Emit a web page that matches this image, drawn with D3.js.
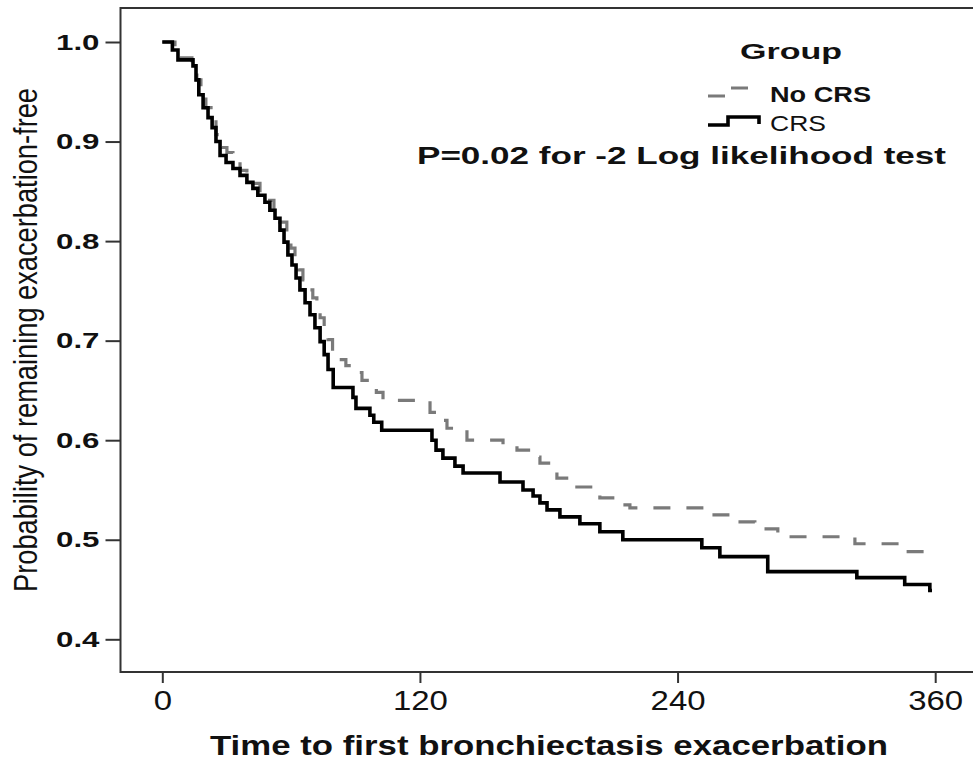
<!DOCTYPE html>
<html>
<head>
<meta charset="utf-8">
<script src="https://cdn.jsdelivr.net/npm/d3@7"></script>
<style>
  html, body { margin: 0; padding: 0; background: #fff; }
  svg { display: block; }
  text { font-family: Arial, "Liberation Sans", sans-serif; fill: #111; }
</style>
</head>
<body>
<svg id="chart" width="973" height="763"></svg>
<script>
// ---- Data ----
const xTicks = [0, 120, 240, 360];
const yTicks = [0.4, 0.5, 0.6, 0.7, 0.8, 0.9, 1.0];

// CRS group (solid): step times and survival after each step
const crsTimes = [0, 4.7, 7.3, 14.3, 15.7, 17, 19, 21.3, 23.2, 25, 26.9, 29.7, 32.9, 36.2, 39.4, 42.2, 44.5, 47.8, 50.1, 52.5, 54.8, 56.7, 58.5, 60.4, 62.3, 64.1, 66.5, 68.8, 71.1, 73.5, 75.4, 77.2, 79.6, 88.8, 90.2, 96.7, 98.5, 102.2, 125.6, 127.5, 130.7, 136.3, 140.1, 157.3, 168, 172.7, 175.9, 179.2, 185.2, 194.5, 203.8, 214.5, 251.3, 259.7, 282, 323.5, 345.8, 357.5, 358.5];
const crsSurv  = [1.0, 0.992, 0.982, 0.976, 0.962, 0.947, 0.934, 0.924, 0.914, 0.900, 0.886, 0.879, 0.873, 0.866, 0.859, 0.853, 0.846, 0.839, 0.831, 0.823, 0.811, 0.799, 0.786, 0.776, 0.763, 0.751, 0.738, 0.726, 0.713, 0.699, 0.686, 0.671, 0.653, 0.643, 0.632, 0.625, 0.618, 0.610, 0.600, 0.590, 0.582, 0.574, 0.567, 0.558, 0.550, 0.544, 0.537, 0.530, 0.523, 0.516, 0.508, 0.500, 0.492, 0.483, 0.468, 0.462, 0.455, 0.449, 0.449];

// No CRS group (dashed)
const noCrsTimes = [0, 5.9, 8.2, 13.8, 16.1, 18, 20.3, 22.7, 25, 27.8, 30.1, 32.9, 36.2, 39.4, 42.2, 45.5, 48.7, 52, 54.8, 58, 59.9, 61.8, 63.6, 65.5, 67.8, 70.1, 72, 73.5, 75.4, 77.2, 79.3, 81.3, 85.5, 89.7, 93, 96.7, 99.7, 102.8, 124.7, 128.4, 132.6, 141.9, 158.7, 165.2, 172.7, 175.9, 183.8, 193.1, 203.8, 214.5, 217.8, 252.7, 264.4, 276, 286.7, 322.6, 343.6, 355, 358.5];
const noCrsSurv  = [1.0, 0.994, 0.984, 0.978, 0.962, 0.947, 0.934, 0.922, 0.907, 0.894, 0.889, 0.881, 0.871, 0.864, 0.858, 0.849, 0.841, 0.831, 0.819, 0.804, 0.793, 0.781, 0.771, 0.761, 0.751, 0.743, 0.733, 0.723, 0.713, 0.701, 0.686, 0.681, 0.675, 0.668, 0.660, 0.654, 0.648, 0.640, 0.628, 0.620, 0.612, 0.600, 0.595, 0.590, 0.583, 0.577, 0.562, 0.553, 0.542, 0.535, 0.532, 0.525, 0.518, 0.511, 0.503, 0.496, 0.488, 0.482, 0.482];

const groups = ["No CRS", "CRS"];
const xTitle = "Time to first bronchiectasis exacerbation";
const yTitle = "Probability of remaining exacerbation-free";
const pText = "P=0.02 for -2 Log likelihood test";

// ---- Drawing ----
const svg = d3.select("#chart");

const x = d3.scaleLinear().domain([0, 360]).range([162.3, 935.2]);
const y = d3.scaleLinear().domain([0.4, 1.0]).range([639.3, 42]);

const frameLeft = 120.5, frameTop = 8, frameBottom = 672;

function stretch(sel, k) {
  sel.each(function () {
    const w = this.getComputedTextLength();
    d3.select(this).attr("textLength", w * k).attr("lengthAdjust", "spacingAndGlyphs");
  });
}

// Frame (left, top, bottom; right side is cut off)
const frame = svg.append("g").attr("stroke", "#333").attr("stroke-width", 2).attr("fill", "none");
frame.append("path").attr("d", `M973,${frameTop}H${frameLeft}V${frameBottom}H973`);

// Y axis
const yAxis = svg.append("g")
  .attr("transform", `translate(${frameLeft},0)`)
  .call(d3.axisLeft(y).tickValues(yTicks).tickFormat(d3.format(".1f")).tickSize(15).tickPadding(6));
yAxis.select(".domain").remove();
yAxis.selectAll(".tick line").attr("stroke", "#333").attr("stroke-width", 2);
yAxis.selectAll(".tick text")
  .attr("font-size", 22).attr("font-weight", "bold")
  .attr("font-family", "Arial, 'Liberation Sans', sans-serif")
  .attr("fill", "#111")
  .call(stretch, 1.42);

// X axis
const xAxis = svg.append("g")
  .attr("transform", `translate(0,${frameBottom})`)
  .call(d3.axisBottom(x).tickValues(xTicks).tickFormat(d3.format("d")).tickSize(11).tickPadding(8));
xAxis.select(".domain").remove();
xAxis.selectAll(".tick line").attr("stroke", "#333").attr("stroke-width", 2);
xAxis.selectAll(".tick text")
  .attr("font-size", 27)
  .attr("font-family", "Arial, 'Liberation Sans', sans-serif")
  .attr("fill", "#111")
  .call(stretch, 1.22);

// Axis titles
svg.append("text")
  .attr("x", 549).attr("y", 755)
  .attr("text-anchor", "middle")
  .attr("font-size", 27).attr("font-weight", "bold")
  .attr("textLength", 678).attr("lengthAdjust", "spacingAndGlyphs")
  .text(xTitle);

svg.append("text")
  .attr("transform", "translate(37,340) rotate(-90) scale(1,1.35)")
  .attr("text-anchor", "middle")
  .attr("font-size", 24)
  .attr("textLength", 504).attr("lengthAdjust", "spacingAndGlyphs")
  .text(yTitle);

// Curves
const line = d3.line().x(d => x(d[0])).y(d => y(d[1])).curve(d3.curveStepAfter);
const crsData = crsTimes.map((t, i) => [t, crsSurv[i]]);
const noCrsData = noCrsTimes.map((t, i) => [t, noCrsSurv[i]]);

svg.append("path")
  .datum(noCrsData)
  .attr("d", line)
  .attr("fill", "none")
  .attr("stroke", "#7a7a7a")
  .attr("stroke-width", 3.2)
  .attr("stroke-dasharray", "17,16");

svg.append("path")
  .datum(crsData)
  .attr("d", line)
  .attr("fill", "none")
  .attr("stroke", "#000")
  .attr("stroke-width", 3.6)
  .attr("stroke-linejoin", "miter");

// Legend
svg.append("text")
  .attr("x", 740).attr("y", 59)
  .attr("font-size", 22).attr("font-weight", "bold")
  .attr("textLength", 102).attr("lengthAdjust", "spacingAndGlyphs")
  .text("Group");

svg.append("path")
  .attr("d", "M708,96H728V88H758V92")
  .attr("fill", "none").attr("stroke", "#7a7a7a").attr("stroke-width", 3.2)
  .attr("stroke-dasharray", "17,14");
svg.append("text")
  .attr("x", 770).attr("y", 102)
  .attr("font-size", 22).attr("font-weight", "bold")
  .attr("textLength", 101).attr("lengthAdjust", "spacingAndGlyphs")
  .text(groups[0]);

svg.append("path")
  .attr("d", "M708,125H728V117H759V124")
  .attr("fill", "none").attr("stroke", "#000").attr("stroke-width", 3.6);
svg.append("text")
  .attr("x", 770).attr("y", 131)
  .attr("font-size", 22)
  .attr("textLength", 56).attr("lengthAdjust", "spacingAndGlyphs")
  .text(groups[1]);

svg.append("text")
  .attr("x", 417).attr("y", 164)
  .attr("font-size", 23).attr("font-weight", "bold")
  .attr("textLength", 529).attr("lengthAdjust", "spacingAndGlyphs")
  .text(pText);
</script>
</body>
</html>
